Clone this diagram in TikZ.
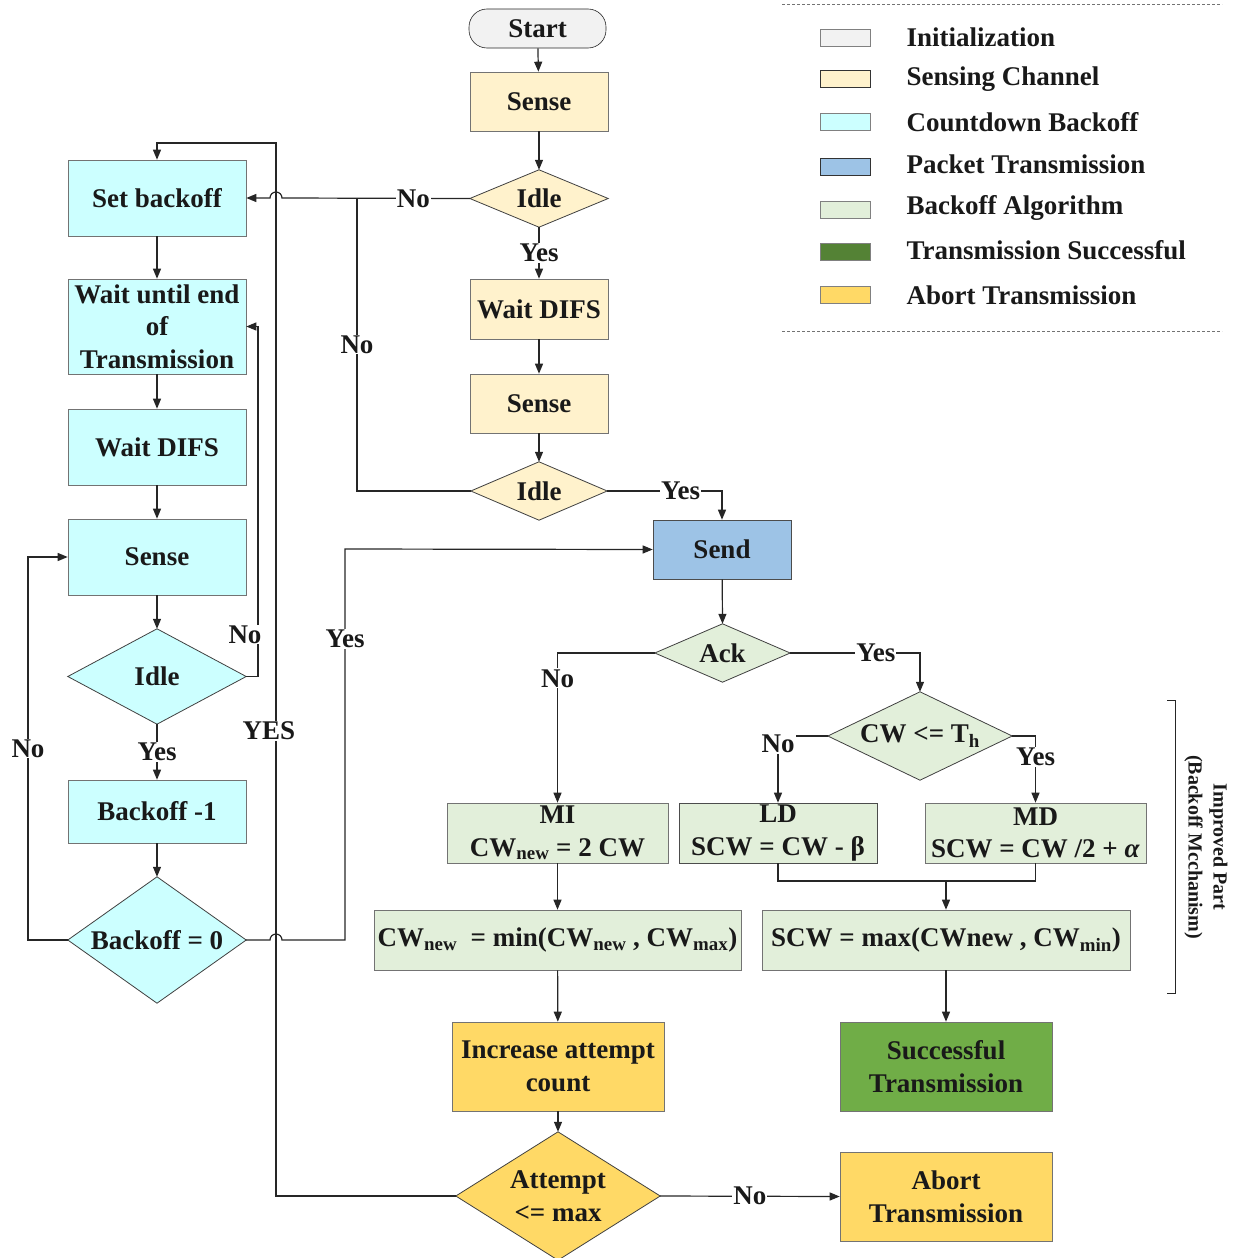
\documentclass[tikz,border=0pt]{standalone}
\usepackage{fontspec}
\setmainfont{Liberation Serif}
\usetikzlibrary{arrows.meta,backgrounds}
\definecolor{cInit}{HTML}{F2F2F2}
\definecolor{cSense}{HTML}{FFF2CC}
\definecolor{cCount}{HTML}{CCFFFF}
\definecolor{cPacket}{HTML}{9DC3E6}
\definecolor{cAlg}{HTML}{E2EFDA}
\definecolor{cSuccL}{HTML}{548235}
\definecolor{cSucc}{HTML}{70AD47}
\definecolor{cAbort}{HTML}{FFD966}
\definecolor{cLine}{HTML}{262626}
\begin{document}
\begin{tikzpicture}[x=1pt,y=1pt,
  every node/.style={font=\fontsize{27}{32.5}\selectfont\bfseries, text=black!90},
  box/.style={rectangle, inner sep=0pt, draw=black!55, line width=0.6pt, align=center},
  dnode/.style={rectangle, inner sep=0pt, align=center},
  conn/.style={draw=cLine, line width=1.2pt},
  arr/.style={conn, -{Triangle[length=10pt,width=8pt]}},
  lbl/.style={fill=white, inner sep=1pt},
  swatch/.style={rectangle, inner sep=0pt, minimum width=50, minimum height=17, draw=black!50, line width=0.6pt},
  legtext/.style={anchor=west},
]
\useasboundingbox (0,0) rectangle (1245,-1258);

% ---- centre column
\node[box, rounded corners=18, fill=cInit, draw=black!85, minimum width=137, minimum height=39] (start) at (537.5,-28.5) {Start};
\node[box, fill=cSense, minimum width=138, minimum height=59] (sense1) at (539,-101.5) {Sense};
\node[dnode, minimum width=138, minimum height=57] (idle1) at (539,-198.5) {Idle};
\node[box, fill=cSense, minimum width=138, minimum height=60] (wait1) at (539,-309) {Wait DIFS};
\node[box, fill=cSense, minimum width=138, minimum height=59] (sense2) at (539,-403.5) {Sense};
\node[dnode, minimum width=136, minimum height=58] (idle2) at (539,-491) {Idle};
\node[box, fill=cPacket, draw=black!70, minimum width=138, minimum height=59] (send) at (722,-549.5) {Send};
\node[dnode, minimum width=135, minimum height=58] (ack) at (722.5,-653) {Ack};
\node[dnode, minimum width=184, minimum height=88] (cw) at (920,-736) {CW {<}= T\textsubscript{h}};
\node[box, fill=cAlg, minimum width=221, minimum height=60] (mi) at (557.5,-833) {MI\\CW\textsubscript{new} = 2 CW};
\node[box, fill=cAlg, draw=black!70, minimum width=198, minimum height=60] (ld) at (778,-833) {LD\\SCW = CW - β};
\node[box, fill=cAlg, minimum width=221, minimum height=60] (md) at (1035.5,-833) {MD\\SCW = CW /2 + \textit{α}};
\node[box, fill=cAlg, minimum width=367, minimum height=60] (minb) at (557.5,-940) {CW\textsubscript{new} \ = min(CW\textsubscript{new} , CW\textsubscript{max})};
\node[box, fill=cAlg, minimum width=368, minimum height=60] (maxb) at (946,-940) {SCW = max(CWnew , CW\textsubscript{min})};
\node[box, fill=cAbort, minimum width=212, minimum height=89] (inc) at (558,-1066.5) {Increase attempt\\count};
\node[box, fill=cSucc, minimum width=212, minimum height=89] (succ) at (946,-1066.5) {Successful\\Transmission};
\node[dnode, minimum width=204, minimum height=128] (att) at (558,-1196) {Attempt\\{<}= max};
\node[box, fill=cAbort, minimum width=212, minimum height=89] (abort) at (946,-1196.5) {Abort\\Transmission};

% ---- left column
\node[box, fill=cCount, minimum width=178, minimum height=76] (setb) at (157,-198) {Set backoff};
\node[box, fill=cCount, minimum width=178, minimum height=95] (waitend) at (157,-326.5) {Wait until end\\of\\Transmission};
\node[box, fill=cCount, minimum width=178, minimum height=76] (wait2) at (157,-447) {Wait DIFS};
\node[box, fill=cCount, minimum width=178, minimum height=76] (sense3) at (157,-557) {Sense};
\node[dnode, minimum width=178, minimum height=95] (idle3) at (157,-676.5) {Idle};
\node[box, fill=cCount, minimum width=178, minimum height=63] (bm1) at (157,-811.5) {Backoff -1};
\node[dnode, minimum width=178, minimum height=126] (b0) at (157,-940) {Backoff = 0};

% ---- diamonds
\begin{scope}[on background layer]
\foreach \n/\c in {idle1/cSense, idle2/cSense, ack/cAlg, cw/cAlg, att/cAbort, idle3/cCount, b0/cCount}
  \filldraw[fill=\c, draw=black!75, line width=0.8pt] (\n.north) -- (\n.east) -- (\n.south) -- (\n.west) -- cycle;
\end{scope}

% ---- connectors, centre
\draw[arr] (start) -- (sense1);
\draw[arr] (sense1) -- (idle1.north);
\draw[arr] (idle1.south) -- node[lbl]{Yes} (wait1.north);
\draw[arr] (wait1) -- (sense2);
\draw[arr] (sense2) -- (idle2.north);
\draw[arr] (idle2.east) -| node[lbl,pos=0.32]{Yes} (send.north);
\draw[arr] (send) -- (ack.north);
\draw[arr] (ack.east) -| node[lbl,pos=0.33]{Yes} (cw.north);
\draw[arr] (cw.west) -| node[lbl,pos=0.56]{No} (ld.north);
\draw[arr] (cw.east) -| node[lbl,pos=0.655]{Yes} (md.north);
\draw[arr] (ack.west) -| node[lbl,pos=0.585]{No} (mi.north);
\draw[arr] (mi) -- (minb);
\coordinate (j1) at (946,-881);
\draw[conn] (ld.south) |- (j1);
\draw[conn] (md.south) |- (j1);
\draw[arr] (j1) -- (maxb.north);
\draw[arr] (minb) -- (inc);
\draw[arr] (maxb) -- (succ);
\draw[arr] (inc) -- (att.north);
\draw[arr] (att.east) -- node[lbl]{No} (abort.west);
\draw[arr] (att.west) -| (276,-143) -| (setb.north);
\node[lbl] (yeslbl) at (269,-731) {YES};
\draw[arr] (idle1.west) -- node[lbl,pos=0.3]{No} (282,-198) arc (0:180:6) -- (setb.east);
\draw[conn] (idle2.west) -| node[lbl,pos=0.75]{No} (357,-198);

% ---- connectors, left
\draw[arr] (setb) -- (waitend);
\draw[arr] (waitend) -- (wait2);
\draw[arr] (wait2) -- (sense3);
\draw[arr] (sense3) -- (idle3.north);
\draw[arr] (idle3.east) -- (258,-676.5) -- node[lbl,pos=0.12,xshift=-13]{No} (258,-326.5) -- (waitend.east);
\draw[arr] (idle3.south) -- node[lbl]{Yes} (bm1.north);
\draw[arr] (bm1) -- (b0.north);
\draw[arr] (b0.west) -| node[lbl,pos=0.75]{No} (28,-557) -- (sense3.west);
\draw[arr] (b0.east) -- (270,-940) arc (180:0:6) -- (345,-940) -- node[lbl,pos=0.77]{Yes} (345,-549) -- (send.west);

% ---- improved part bracket
\draw[conn, line width=0.8pt] (1167,-700) -- (1175,-700) -- (1175,-993) -- (1167,-993);
\node[rotate=-90, font=\fontsize{20}{25}\selectfont\bfseries, align=center] (imp) at (1206,-847) {Improved Part\\(Backoff Mcchanism)};

% ---- legend
\draw[black!55, dash pattern=on 3pt off 2pt, line width=0.6pt] (782,-4) -- (1222,-4);
\draw[black!55, dash pattern=on 3pt off 2pt, line width=0.6pt] (782,-331) -- (1222,-331);
\node[swatch, fill=cInit] (s1) at (845,-37.5) {};
\node[swatch, fill=cSense, draw=black!80] (s2) at (845,-79) {};
\node[swatch, fill=cCount] (s3) at (845,-121.5) {};
\node[swatch, fill=cPacket, draw=black!80] (s4) at (845,-167) {};
\node[swatch, fill=cAlg] (s5) at (845,-210) {};
\node[swatch, fill=cSuccL] (s6) at (845,-252) {};
\node[swatch, fill=cAbort] (s7) at (845,-295) {};
\node[legtext] (t1) at (903,-37) {Initialization};
\node[legtext] (t2) at (903,-79) {Sensing Channel};
\node[legtext] (t3) at (903,-122) {Countdown Backoff};
\node[legtext] (t4) at (903,-164) {Packet Transmission};
\node[legtext] (t5) at (903,-208) {Backoff Algorithm};
\node[legtext] (t6) at (903,-250) {Transmission Successful};
\node[legtext] (t7) at (903,-295) {Abort Transmission};
\end{tikzpicture}
\end{document}
